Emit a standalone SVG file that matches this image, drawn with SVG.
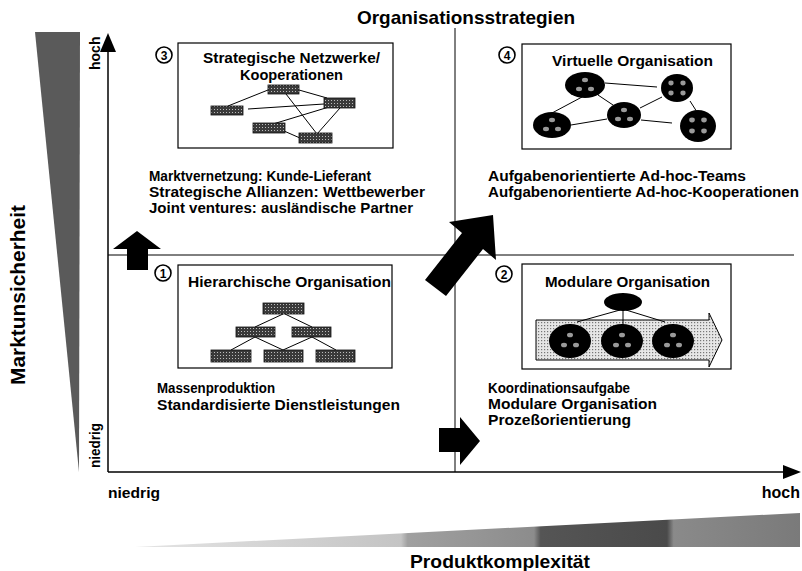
<svg xmlns="http://www.w3.org/2000/svg" width="802" height="571" viewBox="0 0 802 571">
<style>
text{font-family:"Liberation Sans",Arial,sans-serif;font-weight:bold;fill:#000}
.t{font-size:14px}
.h{font-size:15.5px}
.ax{stroke:#000;stroke-width:1.5;fill:none}
.div{stroke:#000;stroke-width:1;fill:none}
.box{fill:#fff;stroke:#000;stroke-width:1.2}
.node{fill:url(#np);stroke:#111;stroke-width:0.8}
.ln{stroke:#000;stroke-width:1;fill:none}
.blob{fill:#000}
.dot{fill:#9a9a9a}
.num{fill:#fff;stroke:#000;stroke-width:1.6}
.nt{font-size:12px;text-anchor:middle}
</style>
<defs>
<pattern id="np" width="3" height="3" patternUnits="userSpaceOnUse">
<rect width="3" height="3" fill="#3a3a3a"/>
<rect x="1" y="1" width="1" height="1" fill="#bbb"/>
</pattern>
<pattern id="dp" width="3" height="3" patternUnits="userSpaceOnUse">
<rect width="3" height="3" fill="#e6e6e6"/>
<rect x="1" y="1" width="1.2" height="1.2" fill="#777"/>
</pattern>
<linearGradient id="bg" x1="0" y1="0" x2="1" y2="0">
<stop offset="0" stop-color="#e4e4e4"/>
<stop offset="0.4" stop-color="#c4c4c4"/>
<stop offset="0.41" stop-color="#a0a0a0"/>
<stop offset="0.6" stop-color="#8c8c8c"/>
<stop offset="0.61" stop-color="#555"/>
<stop offset="0.8" stop-color="#4a4a4a"/>
<stop offset="0.81" stop-color="#8a8a8a"/>
<stop offset="1" stop-color="#7a7a7a"/>
</linearGradient>
</defs>

<!-- gradient wedges -->
<polygon points="35,32 80,32 79,472" fill="#5a5a5a"/>
<polygon points="135,547 800,513 800,547" fill="url(#bg)"/>

<!-- titles and axis labels -->
<text x="357" y="24" font-size="18.5" textLength="218" lengthAdjust="spacingAndGlyphs">Organisationsstrategien</text>
<text x="410" y="568" font-size="19" textLength="180" lengthAdjust="spacingAndGlyphs">Produktkomplexität</text>
<text transform="translate(25,385) rotate(-90)" font-size="20" textLength="180" lengthAdjust="spacingAndGlyphs">Marktunsicherheit</text>
<text transform="translate(100,70) rotate(-90)" font-size="14">hoch</text>
<text transform="translate(100,468) rotate(-90)" font-size="15" textLength="45" lengthAdjust="spacingAndGlyphs">niedrig</text>
<text x="108" y="498" font-size="15" textLength="52" lengthAdjust="spacingAndGlyphs">niedrig</text>
<text x="800" y="498" font-size="16" text-anchor="end">hoch</text>

<!-- connectors: axes, dividers, arrows -->
<g id="connectors">
<line class="ax" x1="108" y1="472" x2="108" y2="50"/>
<polygon points="100,52 108,33 116,52" fill="#000"/>
<line class="ax" x1="108" y1="472" x2="785" y2="472"/>
<polygon points="783,465 801,472 783,479" fill="#000"/>
<line class="div" x1="455" y1="28" x2="455" y2="472"/>
<line class="div" x1="108" y1="255" x2="794" y2="255"/>
<polygon points="127,270 127,249 113,249 137,231 161,249 148,249 148,270" fill="#000"/>
<polygon points="425,280 462,233 449,222 493,215 496,260 483,249 446,296" fill="#000"/>
<polygon points="439,428 460,428 460,417 480,441 460,465 460,452 439,452" fill="#000"/>
</g>

<!-- Quadrant 3 -->
<g id="q3">
<circle class="num" cx="164" cy="55" r="8"/>
<text class="nt" x="164" y="59.5">3</text>
<rect class="box" x="178" y="43" width="215" height="105"/>
<text class="h" x="203" y="63" textLength="177" lengthAdjust="spacingAndGlyphs">Strategische Netzwerke/</text>
<text class="h" x="240" y="80" textLength="103" lengthAdjust="spacingAndGlyphs">Kooperationen</text>
<line class="ln" x1="268" y1="90" x2="228" y2="106"/>
<line class="ln" x1="299" y1="90" x2="327" y2="98"/>
<line class="ln" x1="286" y1="94" x2="317" y2="134"/>
<line class="ln" x1="248" y1="109" x2="324" y2="104"/>
<line class="ln" x1="273" y1="124" x2="329" y2="107"/>
<line class="ln" x1="284" y1="131" x2="300" y2="138"/>
<line class="ln" x1="340" y1="108" x2="317" y2="134"/>
<rect class="node" x="268" y="85" width="31" height="9"/>
<rect class="node" x="324" y="98" width="31" height="10"/>
<rect class="node" x="211" y="106" width="32" height="9"/>
<rect class="node" x="253" y="123" width="32" height="10"/>
<rect class="node" x="299" y="133" width="33" height="10"/>
</g>
<g id="q3text">
<text class="t" x="149" y="181" textLength="222" lengthAdjust="spacingAndGlyphs">Marktvernetzung: Kunde-Lieferant</text>
<text class="t" x="149" y="197" textLength="276" lengthAdjust="spacingAndGlyphs">Strategische Allianzen: Wettbewerber</text>
<text class="t" x="149" y="213" textLength="264" lengthAdjust="spacingAndGlyphs">Joint ventures: ausländische Partner</text>
</g>

<!-- Quadrant 4 -->
<g id="q4">
<circle class="num" cx="507" cy="55" r="8"/>
<text class="nt" x="507" y="59.5">4</text>
<rect class="box" x="522" y="44" width="209" height="105"/>
<text class="h" x="552" y="66" textLength="161" lengthAdjust="spacingAndGlyphs">Virtuelle Organisation</text>
<line class="ln" x1="605" y1="83" x2="657" y2="87"/>
<line class="ln" x1="582" y1="97" x2="552" y2="113"/>
<line class="ln" x1="598" y1="95" x2="613" y2="105"/>
<line class="ln" x1="640" y1="108" x2="662" y2="97"/>
<line class="ln" x1="571" y1="125" x2="607" y2="119"/>
<line class="ln" x1="641" y1="120" x2="672" y2="123"/>
<line class="ln" x1="690" y1="101" x2="697" y2="112"/>
<ellipse class="blob" cx="585" cy="85" rx="20" ry="13"/>
<ellipse class="blob" cx="677" cy="88" rx="16" ry="14"/>
<ellipse class="blob" cx="624" cy="115" rx="17" ry="13"/>
<ellipse class="blob" cx="552" cy="125" rx="19" ry="13"/>
<ellipse class="blob" cx="698" cy="126" rx="18" ry="16"/>
<g class="dot">
<ellipse cx="585" cy="80" rx="3" ry="2.2"/><ellipse cx="579" cy="89" rx="3" ry="2.2"/><ellipse cx="591" cy="89" rx="3" ry="2.2"/>
<ellipse cx="671" cy="83" rx="2.6" ry="2.4"/><ellipse cx="683" cy="83" rx="2.6" ry="2.4"/><ellipse cx="671" cy="93" rx="2.6" ry="2.4"/><ellipse cx="683" cy="93" rx="2.6" ry="2.4"/>
<ellipse cx="624" cy="110" rx="3" ry="2.2"/><ellipse cx="618" cy="119" rx="3" ry="2.2"/><ellipse cx="630" cy="119" rx="3" ry="2.2"/>
<ellipse cx="552" cy="120" rx="3" ry="2.2"/><ellipse cx="546" cy="129" rx="3" ry="2.2"/><ellipse cx="558" cy="129" rx="3" ry="2.2"/>
<ellipse cx="692" cy="120" rx="2.8" ry="2.4"/><ellipse cx="704" cy="120" rx="2.8" ry="2.4"/><ellipse cx="692" cy="131" rx="2.8" ry="2.4"/><ellipse cx="704" cy="131" rx="2.8" ry="2.4"/>
</g>
</g>
<g id="q4text">
<text class="t" x="488" y="181" textLength="258" lengthAdjust="spacingAndGlyphs">Aufgabenorientierte Ad-hoc-Teams</text>
<text class="t" x="488" y="197" textLength="311" lengthAdjust="spacingAndGlyphs">Aufgabenorientierte Ad-hoc-Kooperationen</text>
</g>

<!-- Quadrant 1 -->
<g id="q1">
<circle class="num" cx="163" cy="273" r="8"/>
<text class="nt" x="163" y="277.5">1</text>
<rect class="box" x="178" y="265" width="214" height="103"/>
<text class="h" x="188" y="287" textLength="203" lengthAdjust="spacingAndGlyphs">Hierarchische Organisation</text>
<line class="ln" x1="283" y1="314" x2="255" y2="327"/>
<line class="ln" x1="285" y1="314" x2="312" y2="327"/>
<line class="ln" x1="255" y1="337" x2="231" y2="350"/>
<line class="ln" x1="255" y1="337" x2="283" y2="350"/>
<line class="ln" x1="312" y1="337" x2="283" y2="350"/>
<line class="ln" x1="312" y1="337" x2="336" y2="350"/>
<rect class="node" x="263" y="303" width="41" height="11"/>
<rect class="node" x="236" y="327" width="39" height="10"/>
<rect class="node" x="292" y="327" width="39" height="10"/>
<rect class="node" x="211" y="350" width="40" height="12"/>
<rect class="node" x="264" y="350" width="39" height="12"/>
<rect class="node" x="316" y="350" width="39" height="12"/>
</g>
<g id="q1text">
<text class="t" x="157" y="393" textLength="118" lengthAdjust="spacingAndGlyphs">Massenproduktion</text>
<text class="t" x="157" y="410" textLength="243" lengthAdjust="spacingAndGlyphs">Standardisierte Dienstleistungen</text>
</g>

<!-- Quadrant 2 -->
<g id="q2">
<circle class="num" cx="504" cy="274" r="8"/>
<text class="nt" x="504" y="278.5">2</text>
<rect class="box" x="522" y="264" width="209" height="105"/>
<text class="h" x="545" y="287" textLength="165" lengthAdjust="spacingAndGlyphs">Modulare Organisation</text>
<polygon points="536,320 709,320 709,313 722,340 709,367 709,360 536,360" fill="url(#dp)" stroke="#000" stroke-width="1"/>
<line class="ln" x1="620" y1="310" x2="577" y2="322"/>
<line class="ln" x1="623" y1="311" x2="623" y2="325"/>
<line class="ln" x1="626" y1="310" x2="665" y2="322"/>
<ellipse class="blob" cx="623" cy="302" rx="19" ry="9"/>
<ellipse class="blob" cx="570" cy="341" rx="21" ry="17"/>
<ellipse class="blob" cx="622" cy="341" rx="21" ry="17"/>
<ellipse class="blob" cx="673" cy="341" rx="21" ry="17"/>
<g class="dot">
<ellipse cx="570" cy="335" rx="3" ry="2.3"/><ellipse cx="564" cy="345" rx="3" ry="2.3"/><ellipse cx="576" cy="345" rx="3" ry="2.3"/>
<ellipse cx="622" cy="335" rx="3" ry="2.3"/><ellipse cx="616" cy="345" rx="3" ry="2.3"/><ellipse cx="628" cy="345" rx="3" ry="2.3"/>
<ellipse cx="673" cy="335" rx="3" ry="2.3"/><ellipse cx="667" cy="345" rx="3" ry="2.3"/><ellipse cx="679" cy="345" rx="3" ry="2.3"/>
</g>
</g>
<g id="q2text">
<text class="t" x="488" y="393" textLength="142" lengthAdjust="spacingAndGlyphs">Koordinationsaufgabe</text>
<text class="t" x="488" y="409" textLength="169" lengthAdjust="spacingAndGlyphs">Modulare Organisation</text>
<text class="t" x="488" y="425" textLength="143" lengthAdjust="spacingAndGlyphs">Prozeßorientierung</text>
</g>
</svg>
